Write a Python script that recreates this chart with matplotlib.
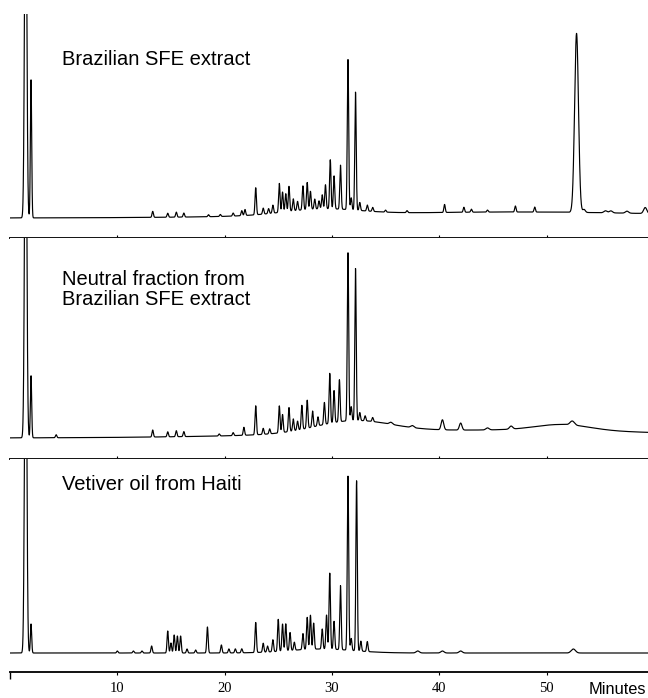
import numpy as np
import matplotlib
matplotlib.use('Agg')
import matplotlib.pyplot as plt

# ---- chromatogram data (retention time in minutes, height in px-ish units) ----
labels = ['Brazilian SFE extract',
          'Neutral fraction from\nBrazilian SFE extract',
          'Vetiver oil from Haiti']

# panel 1: Brazilian SFE extract
p1_t = [1.46, 1.96, 13.3, 14.7, 15.5, 16.2, 18.5, 19.6, 20.8, 21.6, 21.9, 22.9, 23.6, 24.1, 24.5,
        25.1, 25.4, 25.7, 26.0, 26.4, 26.8, 27.3, 27.7, 28.0, 28.4, 28.8, 29.1, 29.4, 29.85, 30.2,
        30.8, 31.5, 31.8, 32.2, 32.6, 33.3, 33.8, 35.0, 37.0, 40.5, 42.3, 43.0, 44.5, 47.1, 48.9,
        52.8, 53.5, 55.5, 56.0, 57.5, 59.2]
p1_h = [400, 138, 6, 4, 5, 4, 2, 2, 3, 5, 6, 27, 6, 5, 8,
        29, 20, 18, 25, 12, 9, 24, 27, 18, 10, 8, 14, 24, 49, 33,
        44, 150, 12, 118, 8, 6, 4, 2, 2, 8, 5, 3, 2, 6, 5,
        179, 3, 2, 2, 2, 6]
p1_w = [0.1, 0.06] + [0.065] * 43 + [0.18, 0.12, 0.15, 0.15, 0.15, 0.15]
p1_drift_t = [29.0, 47.0]
p1_drift_h = [6.0, 6.0]
p1_drift_w = [3.5, 16.0]

# panel 2: neutral fraction from Brazilian SFE extract
p2_t = [1.46, 1.96, 4.3, 13.3, 14.7, 15.5, 16.2, 19.5, 20.8, 21.8, 22.9, 23.6, 24.2, 25.1, 25.4,
        26.0, 26.4, 26.8, 27.2, 27.7, 28.2, 28.7, 29.3, 29.8, 30.2, 30.7, 31.5, 31.8, 32.2, 32.6,
        33.1, 33.8, 35.5, 37.5, 40.3, 42.0, 44.5, 46.7, 52.4]
p2_h = [400, 62, 3, 7, 5, 6, 5, 2, 3, 8, 29, 6, 5, 27, 18,
        24, 12, 9, 24, 28, 16, 9, 22, 50, 32, 42, 168, 14, 152, 8,
        5, 4, 2, 2, 10, 7, 2, 3, 4]
p2_w = [0.1, 0.06] + [0.065] * 30 + [0.15, 0.15, 0.12, 0.12, 0.15, 0.15, 0.2]
p2_drift_t = [32.0, 46.0, 51.5]
p2_drift_h = [12.0, 8.0, 6.0]
p2_drift_w = [3.5, 16.0, 2.5]

# panel 3: vetiver oil from Haiti
p3_t = [1.46, 1.96, 10.0, 11.5, 12.3, 13.2, 14.7, 15.0, 15.3, 15.6, 15.9, 16.5, 17.3, 18.4, 19.7,
        20.4, 21.0, 21.6, 22.9, 23.6, 24.0, 24.5, 25.0, 25.4, 25.7, 26.1, 26.5, 27.3, 27.7, 28.0,
        28.3, 29.1, 29.5, 29.8, 30.2, 30.8, 31.5, 31.8, 32.3, 32.7, 33.3, 38.0, 40.3, 42.0, 52.5]
p3_h = [400, 29, 2, 2, 2, 7, 22, 10, 18, 17, 17, 4, 3, 26, 8,
        4, 4, 4, 30, 9, 6, 12, 32, 27, 27, 18, 8, 16, 32, 34,
        26, 20, 34, 76, 28, 64, 174, 12, 170, 10, 10, 2, 2, 2, 4]
p3_w = [0.1, 0.06] + [0.065] * 39 + [0.15, 0.15, 0.15, 0.2]
p3_drift_t = [29.0]
p3_drift_h = [4.0]
p3_drift_w = [3.0]

tick_minutes = [10, 20, 30, 40, 50]


def trace(t, pk_t, pk_h, pk_w, dr_t, dr_h, dr_w):
    # each listed peak is drawn as a gaussian band on the time axis
    y = np.zeros_like(t)
    for c, h, w in zip(list(pk_t) + list(dr_t), list(pk_h) + list(dr_h), list(pk_w) + list(dr_w)):
        y += h * np.exp(-0.5 * ((t - c) / w) ** 2)
    return y


def main():
    W, H = 648, 698
    fig = plt.figure(figsize=(W / 100, H / 100), dpi=100)
    t = np.linspace(0, 60, 12001)

    # panel boxes in pixels: (top, bottom spine, baseline)
    boxes = [(14, 238, 218), (238, 459, 438), (459, 672, 653)]
    panels = [
        (p1_t, p1_h, p1_w, p1_drift_t, p1_drift_h, p1_drift_w),
        (p2_t, p2_h, p2_w, p2_drift_t, p2_drift_h, p2_drift_w),
        (p3_t, p3_h, p3_w, p3_drift_t, p3_drift_h, p3_drift_w),
    ]
    # baseline of the last text line in each panel
    text_baselines = [65, 305, 490]
    xmax = 638 / 10.73

    for i, ((top, bot, base), pdata) in enumerate(zip(boxes, panels)):
        ax = fig.add_axes([10 / W, 1 - bot / H, 638 / W, (bot - top) / H])
        y = trace(t, *pdata)
        ax.plot(t, y, color='black', lw=0.85)
        ax.set_xlim(0, xmax)
        ax.set_ylim(-(bot - base), base - top)
        for s in ['top', 'left', 'right']:
            ax.spines[s].set_visible(False)
        ax.spines['bottom'].set_linewidth(1.4)
        ax.spines['bottom'].set_color('#111111')
        ax.set_yticks([])
        ax.set_xticks(tick_minutes)
        if i < 2:
            ax.tick_params(axis='x', direction='in', length=2, width=0.8, labelbottom=False)
        else:
            ax.tick_params(axis='x', direction='out', length=2, width=0.8, pad=5,
                           labelsize=10.5)
            for lab in ax.get_xticklabels():
                lab.set_fontfamily('Liberation Serif')
            ax.set_xticks([0], minor=True)
            ax.tick_params(axis='x', which='minor', direction='out', length=5, width=1.0)

        fig.text(62 / W, 1 - text_baselines[i] / H, labels[i], ha='left', va='baseline',
                 fontsize=14.5, family='Liberation Sans', linespacing=1.05)

    fig.text(589 / W, 1 - 694 / H, 'Minutes', ha='left', va='baseline',
             fontsize=11.8, family='Liberation Sans')

    fig.savefig('out.png', dpi=100)


if __name__ == "__main__":
    main()
